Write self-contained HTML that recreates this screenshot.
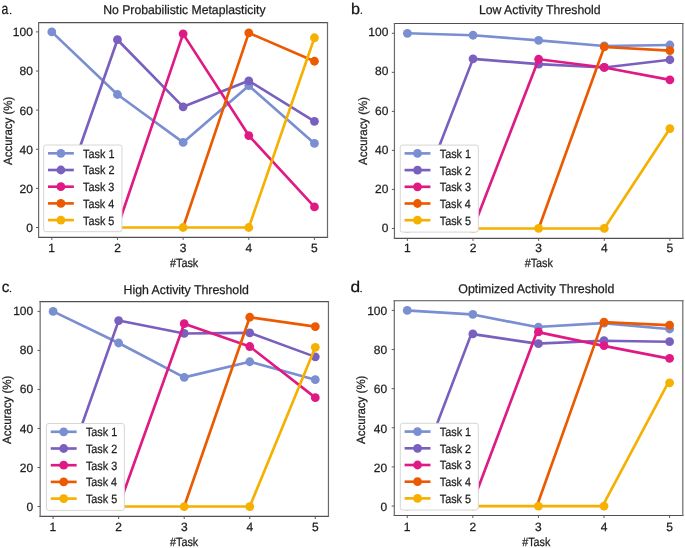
<!DOCTYPE html>
<html><head><meta charset="utf-8"><title>Accuracy per task</title>
<style>
html,body{margin:0;padding:0;background:#fff;}
body{width:685px;height:548px;overflow:hidden;}
svg{display:block;font-family:"Liberation Sans", sans-serif;will-change:transform;}
text{text-rendering:geometricPrecision;}
</style></head>
<body>
<svg width="685" height="548" viewBox="0 0 685 548">
<rect width="685" height="548" fill="#fff"/>
<clipPath id="ca"><rect x="38.6" y="22.65" width="288.9" height="214.65"/></clipPath>
<g clip-path="url(#ca)">
<polyline points="51.8,31.9 117.46,94.49 183.12,142.41 248.79,85.69 314.45,143.39" fill="none" stroke="#7A8ED2" stroke-width="2.65" stroke-linejoin="round"/>
<circle cx="51.8" cy="31.9" r="4.4" fill="#7A8ED2"/>
<circle cx="117.46" cy="94.49" r="4.4" fill="#7A8ED2"/>
<circle cx="183.12" cy="142.41" r="4.4" fill="#7A8ED2"/>
<circle cx="248.79" cy="85.69" r="4.4" fill="#7A8ED2"/>
<circle cx="314.45" cy="143.39" r="4.4" fill="#7A8ED2"/>
<polyline points="51.8,227.5 117.46,39.72 183.12,106.81 248.79,80.8 314.45,121.29" fill="none" stroke="#7A60BE" stroke-width="2.65" stroke-linejoin="round"/>
<circle cx="117.46" cy="39.72" r="4.4" fill="#7A60BE"/>
<circle cx="183.12" cy="106.81" r="4.4" fill="#7A60BE"/>
<circle cx="248.79" cy="80.8" r="4.4" fill="#7A60BE"/>
<circle cx="314.45" cy="121.29" r="4.4" fill="#7A60BE"/>
<polyline points="117.46,227.5 183.12,33.86 248.79,135.57 314.45,206.96" fill="none" stroke="#E01A84" stroke-width="2.65" stroke-linejoin="round"/>
<circle cx="183.12" cy="33.86" r="4.4" fill="#E01A84"/>
<circle cx="248.79" cy="135.57" r="4.4" fill="#E01A84"/>
<circle cx="314.45" cy="206.96" r="4.4" fill="#E01A84"/>
<polyline points="183.12,227.5 248.79,32.88 314.45,61.24" fill="none" stroke="#EB5A00" stroke-width="2.65" stroke-linejoin="round"/>
<circle cx="248.79" cy="32.88" r="4.4" fill="#EB5A00"/>
<circle cx="314.45" cy="61.24" r="4.4" fill="#EB5A00"/>
<polyline points="51.8,227.5 117.46,227.5 183.12,227.5 248.79,227.5 314.45,37.77" fill="none" stroke="#F5B000" stroke-width="2.65" stroke-linejoin="round"/>
<circle cx="51.8" cy="227.5" r="4.4" fill="#F5B000"/>
<circle cx="117.46" cy="227.5" r="4.4" fill="#F5B000"/>
<circle cx="183.12" cy="227.5" r="4.4" fill="#F5B000"/>
<circle cx="248.79" cy="227.5" r="4.4" fill="#F5B000"/>
<circle cx="314.45" cy="37.77" r="4.4" fill="#F5B000"/>
</g>
<rect x="43.65" y="145" width="78.3" height="86.7" rx="2.3" fill="#fff" stroke="#d6d6d6" stroke-width="1"/>
<line x1="47.95" y1="153.3" x2="73.85" y2="153.3" stroke="#7A8ED2" stroke-width="2.65"/>
<circle cx="60.9" cy="153.3" r="4.4" fill="#7A8ED2"/>
<text x="83.12" y="157.7" font-size="12" fill="#1e1e1e" textLength="31.34" lengthAdjust="spacingAndGlyphs" stroke="#1e1e1e" stroke-width="0.25">Task 1</text>
<line x1="47.95" y1="170" x2="73.85" y2="170" stroke="#7A60BE" stroke-width="2.65"/>
<circle cx="60.9" cy="170" r="4.4" fill="#7A60BE"/>
<text x="83.12" y="174.4" font-size="12" fill="#1e1e1e" textLength="31.36" lengthAdjust="spacingAndGlyphs" stroke="#1e1e1e" stroke-width="0.25">Task 2</text>
<line x1="47.95" y1="186.7" x2="73.85" y2="186.7" stroke="#E01A84" stroke-width="2.65"/>
<circle cx="60.9" cy="186.7" r="4.4" fill="#E01A84"/>
<text x="83.12" y="191.1" font-size="12" fill="#1e1e1e" textLength="31.29" lengthAdjust="spacingAndGlyphs" stroke="#1e1e1e" stroke-width="0.25">Task 3</text>
<line x1="47.95" y1="203.4" x2="73.85" y2="203.4" stroke="#EB5A00" stroke-width="2.65"/>
<circle cx="60.9" cy="203.4" r="4.4" fill="#EB5A00"/>
<text x="83.12" y="207.8" font-size="12" fill="#1e1e1e" textLength="31.14" lengthAdjust="spacingAndGlyphs" stroke="#1e1e1e" stroke-width="0.25">Task 4</text>
<line x1="47.95" y1="220.1" x2="73.85" y2="220.1" stroke="#F5B000" stroke-width="2.65"/>
<circle cx="60.9" cy="220.1" r="4.4" fill="#F5B000"/>
<text x="83.12" y="224.5" font-size="12" fill="#1e1e1e" textLength="31.27" lengthAdjust="spacingAndGlyphs" stroke="#1e1e1e" stroke-width="0.25">Task 5</text>
<path d="M38 22.65H328.1M38 237.3H328.1" stroke="#505050" stroke-width="1.2" fill="none"/>
<path d="M38.6 22.05V237.9M327.5 22.05V237.9" stroke="#6a6a6a" stroke-width="1.2" fill="none"/>
<line x1="51.8" y1="237.3" x2="51.8" y2="239.9" stroke="#5a5a5a" stroke-width="1"/>
<text x="48.3" y="251.6" font-size="12" fill="#1e1e1e" stroke="#1e1e1e" stroke-width="0.25">1</text>
<line x1="117.46" y1="237.3" x2="117.46" y2="239.9" stroke="#5a5a5a" stroke-width="1"/>
<text x="114.13" y="251.6" font-size="12" fill="#1e1e1e" stroke="#1e1e1e" stroke-width="0.25">2</text>
<line x1="183.12" y1="237.3" x2="183.12" y2="239.9" stroke="#5a5a5a" stroke-width="1"/>
<text x="179.82" y="251.6" font-size="12" fill="#1e1e1e" stroke="#1e1e1e" stroke-width="0.25">3</text>
<line x1="248.79" y1="237.3" x2="248.79" y2="239.9" stroke="#5a5a5a" stroke-width="1"/>
<text x="245.49" y="251.6" font-size="12" fill="#1e1e1e" stroke="#1e1e1e" stroke-width="0.25">4</text>
<line x1="314.45" y1="237.3" x2="314.45" y2="239.9" stroke="#5a5a5a" stroke-width="1"/>
<text x="311.12" y="251.6" font-size="12" fill="#1e1e1e" stroke="#1e1e1e" stroke-width="0.25">5</text>
<line x1="36" y1="227.5" x2="38.6" y2="227.5" stroke="#5a5a5a" stroke-width="1"/>
<text x="26.19" y="232.42" font-size="12" fill="#1e1e1e" stroke="#1e1e1e" stroke-width="0.25">0</text>
<line x1="36" y1="188.38" x2="38.6" y2="188.38" stroke="#5a5a5a" stroke-width="1"/>
<text x="19.52" y="193.14" font-size="12" fill="#1e1e1e" stroke="#1e1e1e" stroke-width="0.25">20</text>
<line x1="36" y1="149.26" x2="38.6" y2="149.26" stroke="#5a5a5a" stroke-width="1"/>
<text x="19.52" y="153.86" font-size="12" fill="#1e1e1e" stroke="#1e1e1e" stroke-width="0.25">40</text>
<line x1="36" y1="110.14" x2="38.6" y2="110.14" stroke="#5a5a5a" stroke-width="1"/>
<text x="19.52" y="114.58" font-size="12" fill="#1e1e1e" stroke="#1e1e1e" stroke-width="0.25">60</text>
<line x1="36" y1="71.02" x2="38.6" y2="71.02" stroke="#5a5a5a" stroke-width="1"/>
<text x="19.52" y="75.3" font-size="12" fill="#1e1e1e" stroke="#1e1e1e" stroke-width="0.25">80</text>
<line x1="36" y1="31.9" x2="38.6" y2="31.9" stroke="#5a5a5a" stroke-width="1"/>
<text x="12.85" y="36.02" font-size="12" fill="#1e1e1e" stroke="#1e1e1e" stroke-width="0.25">100</text>
<text x="169.95" y="266.85" font-size="12" fill="#1e1e1e" textLength="28.33" lengthAdjust="spacingAndGlyphs" stroke="#1e1e1e" stroke-width="0.25">#Task</text>
<g transform="translate(11.5,164.9) rotate(-90)"><text x="-0.02" y="0" font-size="12" fill="#1e1e1e" textLength="68.13" lengthAdjust="spacingAndGlyphs" stroke="#1e1e1e" stroke-width="0.25">Accuracy (%)</text></g>
<text x="103.2" y="13.9" font-size="12.6" fill="#1e1e1e" textLength="162.33" lengthAdjust="spacingAndGlyphs" stroke="#1e1e1e" stroke-width="0.25">No Probabilistic Metaplasticity</text>
<text x="1.53" y="14.35" font-size="15.5" fill="#111" textLength="6.82" lengthAdjust="spacingAndGlyphs" stroke="#1e1e1e" stroke-width="0.25">a</text>
<circle cx="10.6" cy="13.55" r="0.78" fill="#111"/>
<clipPath id="cb"><rect x="394.45" y="23.5" width="288.4" height="214.85"/></clipPath>
<g clip-path="url(#cb)">
<polyline points="407.4,33.3 473.02,35.25 538.65,40.33 604.27,45.98 669.9,45.01" fill="none" stroke="#7A8ED2" stroke-width="2.65" stroke-linejoin="round"/>
<circle cx="407.4" cy="33.3" r="4.4" fill="#7A8ED2"/>
<circle cx="473.02" cy="35.25" r="4.4" fill="#7A8ED2"/>
<circle cx="538.65" cy="40.33" r="4.4" fill="#7A8ED2"/>
<circle cx="604.27" cy="45.98" r="4.4" fill="#7A8ED2"/>
<circle cx="669.9" cy="45.01" r="4.4" fill="#7A8ED2"/>
<polyline points="407.4,228.45 473.02,58.86 538.65,64.13 604.27,67.45 669.9,59.74" fill="none" stroke="#7A60BE" stroke-width="2.65" stroke-linejoin="round"/>
<circle cx="473.02" cy="58.86" r="4.4" fill="#7A60BE"/>
<circle cx="538.65" cy="64.13" r="4.4" fill="#7A60BE"/>
<circle cx="604.27" cy="67.45" r="4.4" fill="#7A60BE"/>
<circle cx="669.9" cy="59.74" r="4.4" fill="#7A60BE"/>
<polyline points="473.02,228.45 538.65,59.25 604.27,67.45 669.9,79.84" fill="none" stroke="#E01A84" stroke-width="2.65" stroke-linejoin="round"/>
<circle cx="538.65" cy="59.25" r="4.4" fill="#E01A84"/>
<circle cx="604.27" cy="67.45" r="4.4" fill="#E01A84"/>
<circle cx="669.9" cy="79.84" r="4.4" fill="#E01A84"/>
<polyline points="538.65,228.45 604.27,46.96 669.9,50.57" fill="none" stroke="#EB5A00" stroke-width="2.65" stroke-linejoin="round"/>
<circle cx="604.27" cy="46.96" r="4.4" fill="#EB5A00"/>
<circle cx="669.9" cy="50.57" r="4.4" fill="#EB5A00"/>
<polyline points="407.4,228.45 473.02,228.45 538.65,228.45 604.27,228.45 669.9,128.53" fill="none" stroke="#F5B000" stroke-width="2.65" stroke-linejoin="round"/>
<circle cx="407.4" cy="228.45" r="4.4" fill="#F5B000"/>
<circle cx="473.02" cy="228.45" r="4.4" fill="#F5B000"/>
<circle cx="538.65" cy="228.45" r="4.4" fill="#F5B000"/>
<circle cx="604.27" cy="228.45" r="4.4" fill="#F5B000"/>
<circle cx="669.9" cy="128.53" r="4.4" fill="#F5B000"/>
</g>
<rect x="400.25" y="145.1" width="78.05" height="87" rx="2.3" fill="#fff" stroke="#d6d6d6" stroke-width="1"/>
<line x1="404.55" y1="153.4" x2="430.45" y2="153.4" stroke="#7A8ED2" stroke-width="2.65"/>
<circle cx="417.5" cy="153.4" r="4.4" fill="#7A8ED2"/>
<text x="439.72" y="157.8" font-size="12" fill="#1e1e1e" textLength="31.34" lengthAdjust="spacingAndGlyphs" stroke="#1e1e1e" stroke-width="0.25">Task 1</text>
<line x1="404.55" y1="170.1" x2="430.45" y2="170.1" stroke="#7A60BE" stroke-width="2.65"/>
<circle cx="417.5" cy="170.1" r="4.4" fill="#7A60BE"/>
<text x="439.72" y="174.5" font-size="12" fill="#1e1e1e" textLength="31.36" lengthAdjust="spacingAndGlyphs" stroke="#1e1e1e" stroke-width="0.25">Task 2</text>
<line x1="404.55" y1="186.8" x2="430.45" y2="186.8" stroke="#E01A84" stroke-width="2.65"/>
<circle cx="417.5" cy="186.8" r="4.4" fill="#E01A84"/>
<text x="439.72" y="191.2" font-size="12" fill="#1e1e1e" textLength="31.29" lengthAdjust="spacingAndGlyphs" stroke="#1e1e1e" stroke-width="0.25">Task 3</text>
<line x1="404.55" y1="203.5" x2="430.45" y2="203.5" stroke="#EB5A00" stroke-width="2.65"/>
<circle cx="417.5" cy="203.5" r="4.4" fill="#EB5A00"/>
<text x="439.72" y="207.9" font-size="12" fill="#1e1e1e" textLength="31.14" lengthAdjust="spacingAndGlyphs" stroke="#1e1e1e" stroke-width="0.25">Task 4</text>
<line x1="404.55" y1="220.2" x2="430.45" y2="220.2" stroke="#F5B000" stroke-width="2.65"/>
<circle cx="417.5" cy="220.2" r="4.4" fill="#F5B000"/>
<text x="439.72" y="224.6" font-size="12" fill="#1e1e1e" textLength="31.27" lengthAdjust="spacingAndGlyphs" stroke="#1e1e1e" stroke-width="0.25">Task 5</text>
<path d="M393.85 23.5H683.45M393.85 238.35H683.45" stroke="#505050" stroke-width="1.2" fill="none"/>
<path d="M394.45 22.9V238.95M682.85 22.9V238.95" stroke="#6a6a6a" stroke-width="1.2" fill="none"/>
<line x1="407.4" y1="238.35" x2="407.4" y2="240.95" stroke="#5a5a5a" stroke-width="1"/>
<text x="403.9" y="251.6" font-size="12" fill="#1e1e1e" stroke="#1e1e1e" stroke-width="0.25">1</text>
<line x1="473.02" y1="238.35" x2="473.02" y2="240.95" stroke="#5a5a5a" stroke-width="1"/>
<text x="469.69" y="251.6" font-size="12" fill="#1e1e1e" stroke="#1e1e1e" stroke-width="0.25">2</text>
<line x1="538.65" y1="238.35" x2="538.65" y2="240.95" stroke="#5a5a5a" stroke-width="1"/>
<text x="535.35" y="251.6" font-size="12" fill="#1e1e1e" stroke="#1e1e1e" stroke-width="0.25">3</text>
<line x1="604.27" y1="238.35" x2="604.27" y2="240.95" stroke="#5a5a5a" stroke-width="1"/>
<text x="600.98" y="251.6" font-size="12" fill="#1e1e1e" stroke="#1e1e1e" stroke-width="0.25">4</text>
<line x1="669.9" y1="238.35" x2="669.9" y2="240.95" stroke="#5a5a5a" stroke-width="1"/>
<text x="666.57" y="251.6" font-size="12" fill="#1e1e1e" stroke="#1e1e1e" stroke-width="0.25">5</text>
<line x1="391.85" y1="228.45" x2="394.45" y2="228.45" stroke="#5a5a5a" stroke-width="1"/>
<text x="381.69" y="232.42" font-size="12" fill="#1e1e1e" stroke="#1e1e1e" stroke-width="0.25">0</text>
<line x1="391.85" y1="189.42" x2="394.45" y2="189.42" stroke="#5a5a5a" stroke-width="1"/>
<text x="375.02" y="193.14" font-size="12" fill="#1e1e1e" stroke="#1e1e1e" stroke-width="0.25">20</text>
<line x1="391.85" y1="150.39" x2="394.45" y2="150.39" stroke="#5a5a5a" stroke-width="1"/>
<text x="375.02" y="153.86" font-size="12" fill="#1e1e1e" stroke="#1e1e1e" stroke-width="0.25">40</text>
<line x1="391.85" y1="111.36" x2="394.45" y2="111.36" stroke="#5a5a5a" stroke-width="1"/>
<text x="375.02" y="114.58" font-size="12" fill="#1e1e1e" stroke="#1e1e1e" stroke-width="0.25">60</text>
<line x1="391.85" y1="72.33" x2="394.45" y2="72.33" stroke="#5a5a5a" stroke-width="1"/>
<text x="375.02" y="75.3" font-size="12" fill="#1e1e1e" stroke="#1e1e1e" stroke-width="0.25">80</text>
<line x1="391.85" y1="33.3" x2="394.45" y2="33.3" stroke="#5a5a5a" stroke-width="1"/>
<text x="368.35" y="36.02" font-size="12" fill="#1e1e1e" stroke="#1e1e1e" stroke-width="0.25">100</text>
<text x="524.65" y="266.85" font-size="12" fill="#1e1e1e" textLength="28.33" lengthAdjust="spacingAndGlyphs" stroke="#1e1e1e" stroke-width="0.25">#Task</text>
<g transform="translate(367.4,164.9) rotate(-90)"><text x="-0.02" y="0" font-size="12" fill="#1e1e1e" textLength="67.93" lengthAdjust="spacingAndGlyphs" stroke="#1e1e1e" stroke-width="0.25">Accuracy (%)</text></g>
<text x="478.9" y="13.95" font-size="12.6" fill="#1e1e1e" textLength="121.68" lengthAdjust="spacingAndGlyphs" stroke="#1e1e1e" stroke-width="0.25">Low Activity Threshold</text>
<text x="351.05" y="14.1" font-size="15.5" fill="#111" textLength="9.03" lengthAdjust="spacingAndGlyphs" stroke="#1e1e1e" stroke-width="0.25">b</text>
<circle cx="361.35" cy="13.3" r="0.78" fill="#111"/>
<clipPath id="cc"><rect x="40.15" y="301.65" width="288.3" height="214.75"/></clipPath>
<g clip-path="url(#cc)">
<polyline points="53.1,311.4 118.65,343.01 184.2,377.35 249.75,361.74 315.3,379.7" fill="none" stroke="#7A8ED2" stroke-width="2.65" stroke-linejoin="round"/>
<circle cx="53.1" cy="311.4" r="4.4" fill="#7A8ED2"/>
<circle cx="118.65" cy="343.01" r="4.4" fill="#7A8ED2"/>
<circle cx="184.2" cy="377.35" r="4.4" fill="#7A8ED2"/>
<circle cx="249.75" cy="361.74" r="4.4" fill="#7A8ED2"/>
<circle cx="315.3" cy="379.7" r="4.4" fill="#7A8ED2"/>
<polyline points="53.1,506.53 118.65,320.57 184.2,333.45 249.75,332.86 315.3,356.87" fill="none" stroke="#7A60BE" stroke-width="2.65" stroke-linejoin="round"/>
<circle cx="118.65" cy="320.57" r="4.4" fill="#7A60BE"/>
<circle cx="184.2" cy="333.45" r="4.4" fill="#7A60BE"/>
<circle cx="249.75" cy="332.86" r="4.4" fill="#7A60BE"/>
<circle cx="315.3" cy="356.87" r="4.4" fill="#7A60BE"/>
<polyline points="118.65,506.53 184.2,323.69 249.75,346.52 315.3,397.65" fill="none" stroke="#E01A84" stroke-width="2.65" stroke-linejoin="round"/>
<circle cx="184.2" cy="323.69" r="4.4" fill="#E01A84"/>
<circle cx="249.75" cy="346.52" r="4.4" fill="#E01A84"/>
<circle cx="315.3" cy="397.65" r="4.4" fill="#E01A84"/>
<polyline points="184.2,506.53 249.75,317.25 315.3,326.62" fill="none" stroke="#EB5A00" stroke-width="2.65" stroke-linejoin="round"/>
<circle cx="249.75" cy="317.25" r="4.4" fill="#EB5A00"/>
<circle cx="315.3" cy="326.62" r="4.4" fill="#EB5A00"/>
<polyline points="53.1,506.53 118.65,506.53 184.2,506.53 249.75,506.53 315.3,347.3" fill="none" stroke="#F5B000" stroke-width="2.65" stroke-linejoin="round"/>
<circle cx="53.1" cy="506.53" r="4.4" fill="#F5B000"/>
<circle cx="118.65" cy="506.53" r="4.4" fill="#F5B000"/>
<circle cx="184.2" cy="506.53" r="4.4" fill="#F5B000"/>
<circle cx="249.75" cy="506.53" r="4.4" fill="#F5B000"/>
<circle cx="315.3" cy="347.3" r="4.4" fill="#F5B000"/>
</g>
<rect x="46.45" y="423.5" width="77.9" height="86.85" rx="2.3" fill="#fff" stroke="#d6d6d6" stroke-width="1"/>
<line x1="50.75" y1="431.8" x2="76.65" y2="431.8" stroke="#7A8ED2" stroke-width="2.65"/>
<circle cx="63.7" cy="431.8" r="4.4" fill="#7A8ED2"/>
<text x="85.92" y="436.2" font-size="12" fill="#1e1e1e" textLength="31.34" lengthAdjust="spacingAndGlyphs" stroke="#1e1e1e" stroke-width="0.25">Task 1</text>
<line x1="50.75" y1="448.5" x2="76.65" y2="448.5" stroke="#7A60BE" stroke-width="2.65"/>
<circle cx="63.7" cy="448.5" r="4.4" fill="#7A60BE"/>
<text x="85.92" y="452.9" font-size="12" fill="#1e1e1e" textLength="31.36" lengthAdjust="spacingAndGlyphs" stroke="#1e1e1e" stroke-width="0.25">Task 2</text>
<line x1="50.75" y1="465.2" x2="76.65" y2="465.2" stroke="#E01A84" stroke-width="2.65"/>
<circle cx="63.7" cy="465.2" r="4.4" fill="#E01A84"/>
<text x="85.92" y="469.6" font-size="12" fill="#1e1e1e" textLength="31.29" lengthAdjust="spacingAndGlyphs" stroke="#1e1e1e" stroke-width="0.25">Task 3</text>
<line x1="50.75" y1="481.9" x2="76.65" y2="481.9" stroke="#EB5A00" stroke-width="2.65"/>
<circle cx="63.7" cy="481.9" r="4.4" fill="#EB5A00"/>
<text x="85.92" y="486.3" font-size="12" fill="#1e1e1e" textLength="31.14" lengthAdjust="spacingAndGlyphs" stroke="#1e1e1e" stroke-width="0.25">Task 4</text>
<line x1="50.75" y1="498.6" x2="76.65" y2="498.6" stroke="#F5B000" stroke-width="2.65"/>
<circle cx="63.7" cy="498.6" r="4.4" fill="#F5B000"/>
<text x="85.92" y="503" font-size="12" fill="#1e1e1e" textLength="31.27" lengthAdjust="spacingAndGlyphs" stroke="#1e1e1e" stroke-width="0.25">Task 5</text>
<path d="M39.55 301.65H329.05M39.55 516.4H329.05" stroke="#505050" stroke-width="1.2" fill="none"/>
<path d="M40.15 301.05V517M328.45 301.05V517" stroke="#6a6a6a" stroke-width="1.2" fill="none"/>
<line x1="53.1" y1="516.4" x2="53.1" y2="519" stroke="#5a5a5a" stroke-width="1"/>
<text x="49.6" y="530.6" font-size="12" fill="#1e1e1e" stroke="#1e1e1e" stroke-width="0.25">1</text>
<line x1="118.65" y1="516.4" x2="118.65" y2="519" stroke="#5a5a5a" stroke-width="1"/>
<text x="115.31" y="530.6" font-size="12" fill="#1e1e1e" stroke="#1e1e1e" stroke-width="0.25">2</text>
<line x1="184.2" y1="516.4" x2="184.2" y2="519" stroke="#5a5a5a" stroke-width="1"/>
<text x="180.9" y="530.6" font-size="12" fill="#1e1e1e" stroke="#1e1e1e" stroke-width="0.25">3</text>
<line x1="249.75" y1="516.4" x2="249.75" y2="519" stroke="#5a5a5a" stroke-width="1"/>
<text x="246.45" y="530.6" font-size="12" fill="#1e1e1e" stroke="#1e1e1e" stroke-width="0.25">4</text>
<line x1="315.3" y1="516.4" x2="315.3" y2="519" stroke="#5a5a5a" stroke-width="1"/>
<text x="311.97" y="530.6" font-size="12" fill="#1e1e1e" stroke="#1e1e1e" stroke-width="0.25">5</text>
<line x1="37.55" y1="506.53" x2="40.15" y2="506.53" stroke="#5a5a5a" stroke-width="1"/>
<text x="26.54" y="511.37" font-size="12" fill="#1e1e1e" stroke="#1e1e1e" stroke-width="0.25">0</text>
<line x1="37.55" y1="467.5" x2="40.15" y2="467.5" stroke="#5a5a5a" stroke-width="1"/>
<text x="19.87" y="472.07" font-size="12" fill="#1e1e1e" stroke="#1e1e1e" stroke-width="0.25">20</text>
<line x1="37.55" y1="428.48" x2="40.15" y2="428.48" stroke="#5a5a5a" stroke-width="1"/>
<text x="19.87" y="432.77" font-size="12" fill="#1e1e1e" stroke="#1e1e1e" stroke-width="0.25">40</text>
<line x1="37.55" y1="389.45" x2="40.15" y2="389.45" stroke="#5a5a5a" stroke-width="1"/>
<text x="19.87" y="393.47" font-size="12" fill="#1e1e1e" stroke="#1e1e1e" stroke-width="0.25">60</text>
<line x1="37.55" y1="350.43" x2="40.15" y2="350.43" stroke="#5a5a5a" stroke-width="1"/>
<text x="19.87" y="354.17" font-size="12" fill="#1e1e1e" stroke="#1e1e1e" stroke-width="0.25">80</text>
<line x1="37.55" y1="311.4" x2="40.15" y2="311.4" stroke="#5a5a5a" stroke-width="1"/>
<text x="13.2" y="314.87" font-size="12" fill="#1e1e1e" stroke="#1e1e1e" stroke-width="0.25">100</text>
<text x="170.05" y="545.8" font-size="12" fill="#1e1e1e" textLength="28.23" lengthAdjust="spacingAndGlyphs" stroke="#1e1e1e" stroke-width="0.25">#Task</text>
<g transform="translate(11.4,444) rotate(-90)"><text x="-0.02" y="0" font-size="12" fill="#1e1e1e" textLength="68.34" lengthAdjust="spacingAndGlyphs" stroke="#1e1e1e" stroke-width="0.25">Accuracy (%)</text></g>
<text x="123.49" y="293.6" font-size="12.6" fill="#1e1e1e" textLength="125.29" lengthAdjust="spacingAndGlyphs" stroke="#1e1e1e" stroke-width="0.25">High Activity Threshold</text>
<text x="1.65" y="292.35" font-size="15.5" fill="#111" textLength="7.65" lengthAdjust="spacingAndGlyphs" stroke="#1e1e1e" stroke-width="0.25">c</text>
<circle cx="10.45" cy="291.55" r="0.78" fill="#111"/>
<clipPath id="cd"><rect x="394.3" y="300.75" width="288.5" height="214.75"/></clipPath>
<g clip-path="url(#cd)">
<polyline points="405.75,310.4 471.34,314.31 536.92,327.03 602.51,323.12 668.1,328.99" fill="none" stroke="#7A8ED2" stroke-width="2.65" stroke-linejoin="round"/>
<circle cx="407.25" cy="310.4" r="4.4" fill="#7A8ED2"/>
<circle cx="472.84" cy="314.31" r="4.4" fill="#7A8ED2"/>
<circle cx="538.42" cy="327.03" r="4.4" fill="#7A8ED2"/>
<circle cx="604.01" cy="323.12" r="4.4" fill="#7A8ED2"/>
<circle cx="669.6" cy="328.99" r="4.4" fill="#7A8ED2"/>
<polyline points="405.75,506.05 471.34,333.88 536.92,343.66 602.51,340.73 668.1,341.7" fill="none" stroke="#7A60BE" stroke-width="2.65" stroke-linejoin="round"/>
<circle cx="472.84" cy="333.88" r="4.4" fill="#7A60BE"/>
<circle cx="538.42" cy="343.66" r="4.4" fill="#7A60BE"/>
<circle cx="604.01" cy="340.73" r="4.4" fill="#7A60BE"/>
<circle cx="669.6" cy="341.7" r="4.4" fill="#7A60BE"/>
<polyline points="471.34,506.05 536.92,331.92 602.51,345.62 668.1,358.33" fill="none" stroke="#E01A84" stroke-width="2.65" stroke-linejoin="round"/>
<circle cx="538.42" cy="331.92" r="4.4" fill="#E01A84"/>
<circle cx="604.01" cy="345.62" r="4.4" fill="#E01A84"/>
<circle cx="669.6" cy="358.33" r="4.4" fill="#E01A84"/>
<polyline points="536.92,506.05 602.51,322.14 668.1,325.07" fill="none" stroke="#EB5A00" stroke-width="2.65" stroke-linejoin="round"/>
<circle cx="604.01" cy="322.14" r="4.4" fill="#EB5A00"/>
<circle cx="669.6" cy="325.07" r="4.4" fill="#EB5A00"/>
<polyline points="405.75,506.05 471.34,506.05 536.92,506.05 602.51,506.05 668.1,382.79" fill="none" stroke="#F5B000" stroke-width="2.65" stroke-linejoin="round"/>
<circle cx="407.25" cy="506.05" r="4.4" fill="#F5B000"/>
<circle cx="472.84" cy="506.05" r="4.4" fill="#F5B000"/>
<circle cx="538.42" cy="506.05" r="4.4" fill="#F5B000"/>
<circle cx="604.01" cy="506.05" r="4.4" fill="#F5B000"/>
<circle cx="669.6" cy="382.79" r="4.4" fill="#F5B000"/>
</g>
<rect x="400.3" y="423.3" width="78" height="86.7" rx="2.3" fill="#fff" stroke="#d6d6d6" stroke-width="1"/>
<line x1="404.6" y1="431.6" x2="430.5" y2="431.6" stroke="#7A8ED2" stroke-width="2.65"/>
<circle cx="417.55" cy="431.6" r="4.4" fill="#7A8ED2"/>
<text x="439.77" y="436" font-size="12" fill="#1e1e1e" textLength="31.34" lengthAdjust="spacingAndGlyphs" stroke="#1e1e1e" stroke-width="0.25">Task 1</text>
<line x1="404.6" y1="448.3" x2="430.5" y2="448.3" stroke="#7A60BE" stroke-width="2.65"/>
<circle cx="417.55" cy="448.3" r="4.4" fill="#7A60BE"/>
<text x="439.77" y="452.7" font-size="12" fill="#1e1e1e" textLength="31.36" lengthAdjust="spacingAndGlyphs" stroke="#1e1e1e" stroke-width="0.25">Task 2</text>
<line x1="404.6" y1="465" x2="430.5" y2="465" stroke="#E01A84" stroke-width="2.65"/>
<circle cx="417.55" cy="465" r="4.4" fill="#E01A84"/>
<text x="439.77" y="469.4" font-size="12" fill="#1e1e1e" textLength="31.29" lengthAdjust="spacingAndGlyphs" stroke="#1e1e1e" stroke-width="0.25">Task 3</text>
<line x1="404.6" y1="481.7" x2="430.5" y2="481.7" stroke="#EB5A00" stroke-width="2.65"/>
<circle cx="417.55" cy="481.7" r="4.4" fill="#EB5A00"/>
<text x="439.77" y="486.1" font-size="12" fill="#1e1e1e" textLength="31.14" lengthAdjust="spacingAndGlyphs" stroke="#1e1e1e" stroke-width="0.25">Task 4</text>
<line x1="404.6" y1="498.4" x2="430.5" y2="498.4" stroke="#F5B000" stroke-width="2.65"/>
<circle cx="417.55" cy="498.4" r="4.4" fill="#F5B000"/>
<text x="439.77" y="502.8" font-size="12" fill="#1e1e1e" textLength="31.27" lengthAdjust="spacingAndGlyphs" stroke="#1e1e1e" stroke-width="0.25">Task 5</text>
<path d="M393.7 300.75H683.4M393.7 515.5H683.4" stroke="#505050" stroke-width="1.2" fill="none"/>
<path d="M394.3 300.15V516.1M682.8 300.15V516.1" stroke="#6a6a6a" stroke-width="1.2" fill="none"/>
<line x1="407.25" y1="515.5" x2="407.25" y2="518.1" stroke="#5a5a5a" stroke-width="1"/>
<text x="403.75" y="530.6" font-size="12" fill="#1e1e1e" stroke="#1e1e1e" stroke-width="0.25">1</text>
<line x1="472.84" y1="515.5" x2="472.84" y2="518.1" stroke="#5a5a5a" stroke-width="1"/>
<text x="469.5" y="530.6" font-size="12" fill="#1e1e1e" stroke="#1e1e1e" stroke-width="0.25">2</text>
<line x1="538.42" y1="515.5" x2="538.42" y2="518.1" stroke="#5a5a5a" stroke-width="1"/>
<text x="535.12" y="530.6" font-size="12" fill="#1e1e1e" stroke="#1e1e1e" stroke-width="0.25">3</text>
<line x1="604.01" y1="515.5" x2="604.01" y2="518.1" stroke="#5a5a5a" stroke-width="1"/>
<text x="600.71" y="530.6" font-size="12" fill="#1e1e1e" stroke="#1e1e1e" stroke-width="0.25">4</text>
<line x1="669.6" y1="515.5" x2="669.6" y2="518.1" stroke="#5a5a5a" stroke-width="1"/>
<text x="666.27" y="530.6" font-size="12" fill="#1e1e1e" stroke="#1e1e1e" stroke-width="0.25">5</text>
<line x1="391.7" y1="506.05" x2="394.3" y2="506.05" stroke="#5a5a5a" stroke-width="1"/>
<text x="380.49" y="511.37" font-size="12" fill="#1e1e1e" stroke="#1e1e1e" stroke-width="0.25">0</text>
<line x1="391.7" y1="466.92" x2="394.3" y2="466.92" stroke="#5a5a5a" stroke-width="1"/>
<text x="373.82" y="472.07" font-size="12" fill="#1e1e1e" stroke="#1e1e1e" stroke-width="0.25">20</text>
<line x1="391.7" y1="427.79" x2="394.3" y2="427.79" stroke="#5a5a5a" stroke-width="1"/>
<text x="373.82" y="432.77" font-size="12" fill="#1e1e1e" stroke="#1e1e1e" stroke-width="0.25">40</text>
<line x1="391.7" y1="388.66" x2="394.3" y2="388.66" stroke="#5a5a5a" stroke-width="1"/>
<text x="373.82" y="393.47" font-size="12" fill="#1e1e1e" stroke="#1e1e1e" stroke-width="0.25">60</text>
<line x1="391.7" y1="349.53" x2="394.3" y2="349.53" stroke="#5a5a5a" stroke-width="1"/>
<text x="373.82" y="354.17" font-size="12" fill="#1e1e1e" stroke="#1e1e1e" stroke-width="0.25">80</text>
<line x1="391.7" y1="310.4" x2="394.3" y2="310.4" stroke="#5a5a5a" stroke-width="1"/>
<text x="367.15" y="314.87" font-size="12" fill="#1e1e1e" stroke="#1e1e1e" stroke-width="0.25">100</text>
<text x="522.25" y="545.8" font-size="12" fill="#1e1e1e" textLength="28.08" lengthAdjust="spacingAndGlyphs" stroke="#1e1e1e" stroke-width="0.25">#Task</text>
<g transform="translate(365.3,443.9) rotate(-90)"><text x="-0.02" y="0" font-size="12" fill="#1e1e1e" textLength="68.34" lengthAdjust="spacingAndGlyphs" stroke="#1e1e1e" stroke-width="0.25">Accuracy (%)</text></g>
<text x="458.32" y="292.6" font-size="12.6" fill="#1e1e1e" textLength="155.98" lengthAdjust="spacingAndGlyphs" stroke="#1e1e1e" stroke-width="0.25">Optimized Activity Threshold</text>
<text x="350.47" y="292.25" font-size="15.5" fill="#111" textLength="9.65" lengthAdjust="spacingAndGlyphs" stroke="#1e1e1e" stroke-width="0.25">d</text>
<circle cx="361.1" cy="291.45" r="0.78" fill="#111"/>
</svg>
</body></html>
